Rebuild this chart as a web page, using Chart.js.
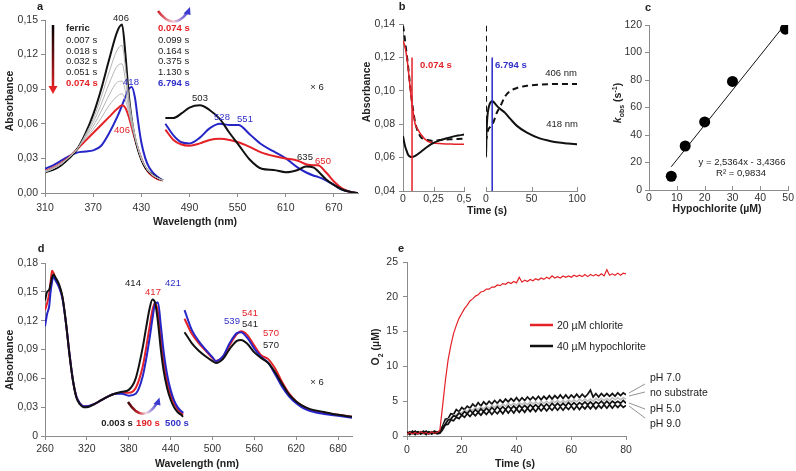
<!DOCTYPE html>
<html><head><meta charset="utf-8">
<script src="https://cdn.jsdelivr.net/npm/chart.js@4.4.1/dist/chart.umd.min.js"></script>
<style>
html,body{margin:0;padding:0;background:#fff;}
#wrap{position:relative;width:796px;height:471px;overflow:hidden;font-family:'Liberation Sans',Arial,Helvetica,sans-serif;color:#222;}
canvas{position:absolute;left:0;top:0;}
svg{position:absolute;left:0;top:0;z-index:5;}
.t,.l{position:absolute;white-space:nowrap;line-height:1;font-size:9.5px;z-index:6;}
.t{transform:translate(-50%,-50%);}
.l{transform:translate(0,-50%);}
.rot{transform:translate(-50%,-50%) rotate(-90deg);}
.b{font-weight:bold;}
.ttl{font-weight:bold;font-size:10.5px;}
.pl{font-weight:bold;font-size:11px;}
.r{color:#e42127;} .u{color:#3030c8;}
.lg{font-size:10.5px;}
</style></head><body><div id="wrap">
<canvas id="ca" width="796" height="471"></canvas>
<canvas id="cbl" width="796" height="471"></canvas>
<canvas id="cbr" width="796" height="471"></canvas>
<canvas id="cc" width="796" height="471"></canvas>
<canvas id="cd" width="796" height="471"></canvas>
<canvas id="ce" width="796" height="471"></canvas>
<svg width="796" height="471" viewBox="0 0 796 471">
<defs>
<linearGradient id="gA" gradientUnits="userSpaceOnUse" x1="0" y1="25" x2="0" y2="90"><stop offset="0" stop-color="#000"/><stop offset="1" stop-color="#e42127"/></linearGradient>
<linearGradient id="gArcA" gradientUnits="userSpaceOnUse" x1="158" y1="0" x2="189" y2="0"><stop offset="0" stop-color="#d01f28"/><stop offset="0.5" stop-color="#f2c8d4"/><stop offset="1" stop-color="#3a3ad0"/></linearGradient>
<linearGradient id="gArcD" gradientUnits="userSpaceOnUse" x1="128" y1="0" x2="158" y2="0"><stop offset="0" stop-color="#3a0808"/><stop offset="0.35" stop-color="#c8202a"/><stop offset="0.6" stop-color="#f4dde4"/><stop offset="1" stop-color="#3a3ad0"/></linearGradient>
</defs>
<line x1="53" y1="25" x2="53" y2="87" stroke="url(#gA)" stroke-width="2.5"/>
<polygon points="48.5,86 57.5,86 53,94" fill="#e42127"/>
<path d="M158,11 Q173,31 187,13" fill="none" stroke="url(#gArcA)" stroke-width="2.5"/>
<polygon points="183.5,13.5 190.5,15 190,7" fill="#3a3ad0"/>
<path d="M128,402 Q143,425 157,403" fill="none" stroke="url(#gArcD)" stroke-width="2.5"/>
<polygon points="153.5,404 160.5,405.5 159.5,397.5" fill="#3a3ad0"/>
<line x1="530" y1="325" x2="553" y2="325" stroke="#e42127" stroke-width="2.5"/>
<line x1="530" y1="346" x2="553" y2="346" stroke="#111" stroke-width="2.5"/>
<g stroke="#777" stroke-width="0.8">
<line x1="629" y1="393" x2="645" y2="384"/>
<line x1="629" y1="396" x2="645" y2="392"/>
<line x1="629" y1="403" x2="645" y2="409"/>
<line x1="629" y1="406" x2="645" y2="418"/>
</g>
</svg>

<div class="t pl" style="left:40px;top:6px">a</div>
<div class="t pl" style="left:402px;top:6px">b</div>
<div class="t pl" style="left:648px;top:7px">c</div>
<div class="t pl" style="left:41px;top:248px">d</div>
<div class="t pl" style="left:401px;top:248px">e</div>

<div class="t" style="left:121px;top:18px">406</div>
<div class="l b" style="left:66px;top:28px">ferric</div>
<div class="l" style="left:66px;top:40px">0.007 s</div>
<div class="l" style="left:66px;top:50.5px">0.018 s</div>
<div class="l" style="left:66px;top:61px">0.032 s</div>
<div class="l" style="left:66px;top:71.5px">0.051 s</div>
<div class="l b r" style="left:66px;top:82.5px">0.074 s</div>
<div class="l b r" style="left:158px;top:28px">0.074 s</div>
<div class="l" style="left:158px;top:40px">0.099 s</div>
<div class="l" style="left:158px;top:50.5px">0.164 s</div>
<div class="l" style="left:158px;top:61px">0.375 s</div>
<div class="l" style="left:158px;top:71.5px">1.130 s</div>
<div class="l b u" style="left:158px;top:82.5px">6.794 s</div>
<div class="t u" style="left:131px;top:82px">418</div>
<div class="t r" style="left:122px;top:130px">406</div>
<div class="t" style="left:200px;top:98px">503</div>
<div class="t u" style="left:222px;top:117px">528</div>
<div class="t u" style="left:245px;top:119px">551</div>
<div class="t" style="left:305px;top:157px">635</div>
<div class="t r" style="left:323px;top:161px">650</div>
<div class="t" style="left:317px;top:87px">× 6</div>

<div class="l b r" style="left:420px;top:65px">0.074 s</div>
<div class="l b u" style="left:495px;top:65px">6.794 s</div>
<div class="t" style="left:561px;top:73px">406 nm</div>
<div class="t" style="left:562px;top:124px">418 nm</div>

<div class="t" style="left:742px;top:162px">y = 2,5364x - 3,4366</div>
<div class="t" style="left:741px;top:173px">R² = 0,9834</div>

<div class="t" style="left:133px;top:283px">414</div>
<div class="t r" style="left:153px;top:292px">417</div>
<div class="t u" style="left:173px;top:283px">421</div>
<div class="t u" style="left:232px;top:321px">539</div>
<div class="t r" style="left:250px;top:313px">541</div>
<div class="t" style="left:250px;top:324px">541</div>
<div class="t r" style="left:271px;top:333px">570</div>
<div class="t" style="left:271px;top:345px">570</div>
<div class="t" style="left:317px;top:382px">× 6</div>
<div class="t b" style="left:117px;top:423px">0.003 s</div>
<div class="t b r" style="left:148px;top:423px">190 s</div>
<div class="t b u" style="left:177px;top:423px">500 s</div>

<div class="l lg" style="left:557px;top:325px">20 µM chlorite</div>
<div class="l lg" style="left:557px;top:346px">40 µM hypochlorite</div>
<div class="l lg" style="left:650px;top:377px">pH 7.0</div>
<div class="l lg" style="left:650px;top:392px">no substrate</div>
<div class="l lg" style="left:650px;top:408px">pH 5.0</div>
<div class="l lg" style="left:650px;top:423px">pH 9.0</div>

<div class="t ttl rot" style="left:9px;top:101px">Absorbance</div>
<div class="t ttl" style="left:195px;top:221px">Wavelength (nm)</div>
<div class="t ttl rot" style="left:366px;top:92px">Absorbance</div>
<div class="t ttl" style="left:487px;top:210px">Time (s)</div>
<div class="t ttl rot" style="left:618px;top:103px"><i>k</i><sub style="font-size:7px">obs</sub> (s<sup style="font-size:7px">-1</sup>)</div>
<div class="t ttl" style="left:717px;top:208px">Hypochlorite (µM)</div>
<div class="t ttl rot" style="left:9px;top:360px">Absorbance</div>
<div class="t ttl" style="left:197px;top:463px">Wavelength (nm)</div>
<div class="t ttl rot" style="left:377px;top:347px">O<sub style="font-size:7px">2</sub> (µM)</div>
<div class="t ttl" style="left:515px;top:463px">Time (s)</div>
</div>
<script>
// ---------- Panel a ----------
const aXTicks = [310,370,430,490,550,610,670];
const aYTicks = [0,0.03,0.06,0.09,0.12,0.15];
const aSoretWl = [310,320,330,340,350,360,370,380,390,400,406,410,414,418,422,426,430,435,440,450,457];
const aFerric  = [.018,.020,.024,.030,.038,.051,.068,.090,.116,.140,.146,.122,.088,.064,.048,.037,.029,.022,.018,.013,.011];
const aT007    = [.018,.021,.025,.031,.038,.050,.064,.083,.105,.124,.128,.110,.085,.065,.050,.039,.030,.023,.018,.013,.011];
const aT018    = [.018,.021,.025,.031,.038,.049,.061,.077,.095,.110,.112,.099,.080,.063,.050,.039,.030,.023,.018,.013,.011];
const aT032    = [.019,.021,.025,.031,.038,.048,.058,.071,.085,.096,.097,.089,.075,.061,.049,.039,.030,.023,.018,.013,.011];
const aT051    = [.019,.022,.026,.031,.038,.047,.055,.065,.076,.084,.086,.081,.071,.059,.048,.038,.030,.023,.018,.013,.011];
const aT074    = [.019,.022,.026,.031,.038,.045,.052,.059,.066,.073,.076,.074,.067,.057,.047,.038,.030,.022,.017,.012,.011];
const aT6794   = [.021,.024,.028,.032,.035,.036,.037,.041,.052,.066,.076,.083,.090,.092,.083,.062,.044,.030,.022,.014,.011];
const aVisWl   = [460,470,480,490,503,515,528,540,551,565,580,595,610,625,635,645,650,660,670,680,690,700];
const aVisFerric = [.065,.065,.069,.074,.076,.072,.064,.052,.042,.029,.021,.020,.018,.020,.023,.022,.019,.012,.007,.003,.001,0];
const aVisT074   = [.055,.046,.042,.041,.043,.046,.047,.046,.044,.040,.035,.032,.030,.028,.025,.024,.024,.018,.010,.004,.001,0];
const aVisT6794  = [.060,.050,.044,.043,.048,.056,.060,.059,.059,.051,.042,.036,.030,.022,.018,.015,.014,.011,.007,.003,.001,0];

// ---------- Panel b ----------
const bYTicks = [0.04,0.06,0.08,0.10,0.12,0.14];
const bLXTicks = [0,0.25,0.5];
const bRXTicks = [0,50,100];
const bLeftT  = [0,0.01,0.02,0.03,0.04,0.05,0.06,0.074,0.09,0.1,0.12,0.15,0.2,0.25,0.3,0.35,0.4,0.45,0.5];
const bFit    = [.130,.128,.125,.1206,.115,.108,.101,.092,.084,.080,.077,.0735,.0698,.0688,.0684,.0682,.0681,.068,.068];
const b406L   = [.139,.134,.128,.122,.116,.109,.102,.093,.085,.081,.076,.072,.0705,.070,.0705,.0708,.071,.0712,.0713];
const b418L   = [.073,.069,.066,.064,.062,.061,.0605,.0603,.0607,.061,.062,.0637,.0665,.0688,.0703,.0714,.0724,.0732,.0738];
const bRightT = [0,0.074,0.5,1,2,4,6.8,8,12,16,21,27,34,45,59,70,80,90,100];
const b406R   = [.139,.093,.0713,.073,.076,.078,.080,.081,.087,.091,.0967,.100,.1017,.103,.1037,.104,.104,.104,.104];
const b418R   = [.073,.0603,.0738,.080,.087,.092,.0937,.0935,.091,.089,.0868,.083,.079,.0749,.0715,.070,.069,.0685,.068];
const bMarkRedT  = [0.074,0.074];
const bMarkBlueT = [6.794,6.794];
const bMarkY     = [0.04,0.12];

// ---------- Panel c ----------
const cXTicks = [0,10,20,30,40,50];
const cYTicks = [0,20,40,60,80,100,120];
const cHypo = [8,13,20,30,49];
const cKobs = [10,32,49.5,79,117];
const cFitX = [8,49];
const cFitY = [16.9,120.8];

// ---------- Panel d ----------
const dXTicks = [260,320,380,440,500,560,620,680];
const dYTicks = [0,0.03,0.06,0.09,0.12,0.15,0.18];
const dSoretWl = [260,263,266,268,270,272,275,280,285,290,295,300,305,310,315,320,330,340,350,360,370,380,390,400,405,410,414,418,422,426,430,435,440,445,450,455,458];
const dS003 = [.141,.150,.152,.158,.165,.168,.165,.158,.145,.118,.085,.058,.040,.033,.030,.030,.033,.037,.041,.044,.046,.048,.060,.092,.113,.133,.142,.138,.118,.090,.068,.050,.038,.030,.025,.022,.020];
const dS190 = [.131,.138,.148,.160,.172,.170,.164,.156,.144,.118,.086,.058,.041,.034,.031,.031,.033,.037,.041,.044,.045,.045,.050,.072,.092,.114,.131,.139,.128,.103,.078,.057,.043,.034,.028,.024,.022];
const dS500 = [.114,.127,.135,.150,.160,.166,.162,.155,.143,.118,.086,.058,.041,.034,.031,.031,.033,.037,.041,.044,.044,.042,.044,.062,.080,.102,.122,.138,.139,.115,.088,.064,.048,.037,.030,.026,.024];
const dVisWl = [460,470,480,490,500,505,515,525,535,541,550,560,570,580,590,600,610,620,630,640,660,680,700];
const dV003 = [.108,.097,.089,.083,.078,.076,.080,.091,.099,.100,.096,.087,.081,.076,.066,.054,.043,.036,.031,.028,.025,.022,.020];
const dV190 = [.122,.107,.097,.089,.081,.078,.082,.095,.106,.109,.105,.094,.084,.080,.070,.056,.044,.036,.031,.027,.024,.022,.020];
const dV500 = [.131,.111,.099,.090,.082,.078,.083,.097,.107,.108,.102,.091,.082,.076,.064,.051,.041,.034,.029,.026,.023,.021,.019];

// ---------- Panel e ----------
const eXTicks = [0,20,40,60,80];
const eYTicks = [0,5,10,15,20,25];
const eTime = [0,1,2,3,4,5,6,7,8,9,10,11,12,13,14,15,16,17,18,19,20,21,22,23,24,25,26,27,28,29,30,31,32,33,34,35,36,37,38,39,40,41,42,43,44,45,46,47,48,49,50,51,52,53,54,55,56,57,58,59,60,61,62,63,64,65,66,67,68,69,70,71,72,73,74,75,76,77,78,79,80];
const eChlorite = [0.3,0.5,0.3,0.5,0.3,0.6,0.4,0.5,0.3,0.6,0.4,0.5,0.8,4.3,7.9,10.9,13.0,14.7,15.9,16.9,17.6,18.3,18.8,19.4,19.7,20.1,20.3,20.7,20.8,21.1,21.1,21.4,21.4,21.7,21.6,21.9,21.8,22.1,21.9,22.2,22.0,22.8,22.1,22.4,22.2,22.5,22.3,22.6,22.4,22.7,22.5,22.8,22.6,23.0,22.7,22.9,22.7,23.0,22.8,23.0,22.8,23.1,22.9,23.1,22.9,23.2,22.9,23.2,23.0,23.2,23.0,23.3,23.0,23.9,23.1,23.3,23.1,23.4,23.1,23.4,23.3];
const ePH7 = [0.5,0.3,0.7,0.4,0.6,0.3,0.7,0.4,0.6,0.3,0.7,0.5,0.7,1.4,2.4,2.5,3.2,3.1,3.8,3.5,4.1,3.8,4.3,4.0,4.6,4.2,4.8,4.3,4.9,4.5,5.0,4.6,5.1,4.7,5.2,4.8,5.3,4.9,5.4,5.0,5.5,5.0,5.5,5.1,5.6,5.2,5.6,5.2,5.7,5.2,5.7,5.3,5.8,5.3,5.8,5.4,5.9,5.4,5.9,5.4,5.9,5.5,6.0,5.5,6.0,5.6,6.0,6.6,5.6,6.1,5.6,6.1,5.7,6.1,5.7,6.1,5.7,6.2,5.8,6.2,5.9];
const eNoSub = [0.4,0.5,0.3,0.5,0.4,0.5,0.3,0.5,0.4,0.5,0.4,0.5,0.6,1.2,1.9,2.4,2.6,3.0,3.0,3.4,3.3,3.7,3.5,3.9,3.7,4.1,3.8,4.2,3.9,4.3,4.0,4.4,4.1,4.5,4.2,4.6,4.3,4.7,4.4,4.7,4.4,4.8,4.5,4.8,4.5,4.9,4.6,4.9,4.6,5.0,4.7,5.0,4.7,5.1,4.8,5.1,4.8,5.1,4.8,5.2,4.9,5.2,4.9,5.3,5.0,5.3,5.0,5.3,5.0,5.4,5.1,5.4,5.1,5.4,5.1,5.5,5.2,5.5,5.2,5.5,5.3];
const ePH5 = [0.3,0.6,0.4,0.7,0.3,0.6,0.4,0.7,0.3,0.6,0.4,0.6,0.5,1.3,1.7,2.3,2.4,2.9,2.8,3.3,3.0,3.5,3.2,3.7,3.3,3.8,3.4,3.9,3.5,4.0,3.6,4.1,3.7,4.2,3.8,4.2,3.8,4.3,3.9,4.3,3.9,4.4,4.0,4.4,4.0,4.5,4.1,4.5,4.1,4.6,4.2,4.6,4.2,4.7,4.3,4.7,4.3,4.7,4.3,4.8,4.4,4.8,4.4,4.8,4.5,4.9,4.5,4.9,4.5,4.9,4.6,5.0,4.6,5.0,4.6,5.0,4.7,5.0,4.7,5.1,4.7];
const ePH9 = [0.6,0.2,0.5,0.2,0.6,0.3,0.5,0.2,0.6,0.3,0.5,0.3,0.4,0.9,1.6,1.7,2.3,2.2,2.7,2.5,3.0,2.7,3.2,2.8,3.3,2.9,3.4,3.0,3.5,3.1,3.6,3.1,3.6,3.2,3.7,3.2,3.8,3.3,3.8,3.3,3.9,3.4,3.9,3.4,4.0,3.5,4.0,3.5,4.1,3.6,4.1,3.6,4.1,3.7,4.2,3.7,4.2,3.7,4.2,3.8,4.3,3.8,4.3,3.8,4.3,3.9,4.4,3.9,4.4,3.9,4.4,4.0,4.5,4.0,4.5,4.0,4.5,4.1,4.5,4.1,4.4];

// ---------- rendering ----------
const RED = '#e42127', BLUE = '#2626c8', GRAY = '#b4b4b4', AX = '#8c8c8c';
Chart.defaults.font.family = "'Liberation Sans', Arial, Helvetica, sans-serif";
Chart.defaults.font.size = 10.5;
Chart.defaults.color = '#333';

const innerTicks = {
  id: 'innerTicks',
  afterDraw(chart, args, opts) {
    if (!opts || !opts.len) return;
    const {ctx, chartArea} = chart; const xs = chart.scales.x;
    ctx.save(); ctx.strokeStyle = AX; ctx.lineWidth = 1;
    xs.ticks.forEach(t => {
      const px = Math.round(xs.getPixelForValue(t.value)) + 0.5;
      ctx.beginPath(); ctx.moveTo(px, chartArea.bottom); ctx.lineTo(px, chartArea.bottom - opts.len); ctx.stroke();
    });
    ctx.restore();
  }
};

function fmtDec(d, zeroPlain) {
  return v => (zeroPlain && v === 0) ? '0' : v.toFixed(d).replace('.', ',');
}
function scale(min, max, ticks, fmt, o) {
  o = o || {};
  return {
    type: 'linear', min, max, display: o.display !== false,
    afterBuildTicks: s => { s.ticks = ticks.map(v => ({value: v})); },
    ticks: {autoSkip: false, maxRotation: 0, minRotation: 0, padding: (o.pad !== undefined ? o.pad : 3), callback: fmt, color: '#333', font: {size: 10.5}},
    grid: {display: true, drawOnChartArea: false, drawTicks: (o.tl || 0) > 0, tickLength: o.tl || 0, color: AX, tickColor: AX},
    border: {display: true, color: AX, width: 1}
  };
}
function ser(xArr, yArr, color, width, extra) {
  return Object.assign({
    data: xArr.map((x, i) => ({x: x, y: yArr[i]})),
    borderColor: color, backgroundColor: color, borderWidth: width,
    pointRadius: 0, fill: false, showLine: true, tension: 0,
    cubicInterpolationMode: 'monotone'
  }, extra || {});
}
function mk(id, rect, xs, ys, datasets, inner) {
  const yW = ys.display === false ? 0 : 40;
  const xH = 25;
  xs.afterFit = s => { s.height = xH; };
  ys.afterFit = s => { s.width = yW; };
  return new Chart(document.getElementById(id), {
    type: 'line',
    data: {datasets},
    plugins: [innerTicks],
    options: {
      responsive: false, animation: false, devicePixelRatio: 1,
      layout: {padding: {left: rect.l - yW, top: rect.t, right: 796 - rect.r, bottom: 471 - rect.b - xH}},
      plugins: {legend: {display: false}, tooltip: {enabled: false}, innerTicks: {len: inner || 0}},
      scales: {x: xs, y: ys}
    }
  });
}
const fmtInt = v => String(v);

// a
mk('ca', {l: 45, t: 20, r: 358, b: 193},
  scale(310, 700, aXTicks, fmtInt, {tl: 4, pad: 5}),
  scale(0, 0.15, aYTicks, fmtDec(2), {tl: 4, pad: 3}),
  [
    ser(aSoretWl, aT007, GRAY, 1),
    ser(aSoretWl, aT018, GRAY, 1),
    ser(aSoretWl, aT032, GRAY, 1),
    ser(aSoretWl, aT051, GRAY, 1),
    ser(aSoretWl, aFerric, '#111', 2),
    ser(aSoretWl, aT074, RED, 2),
    ser(aSoretWl, aT6794, BLUE, 2),
    ser(aVisWl, aVisFerric, '#111', 2),
    ser(aVisWl, aVisT074, RED, 2),
    ser(aVisWl, aVisT6794, BLUE, 2)
  ]);

// b left
mk('cbl', {l: 403, t: 24, r: 464, b: 191},
  scale(0, 0.5, bLXTicks, v => v === 0 ? '0' : String(v).replace('.', ','), {tl: 0, pad: 2}),
  scale(0.04, 0.14, bYTicks, fmtDec(2), {tl: 4, pad: 4}),
  [
    ser(bMarkRedT, bMarkY, RED, 1.5, {cubicInterpolationMode: 'default'}),
    ser(bLeftT, b418L, '#111', 2),
    ser(bLeftT, bFit, RED, 1.5),
    ser(bLeftT, b406L, '#111', 2, {borderDash: [6, 4]})
  ], 4);

// b right
mk('cbr', {l: 486, t: 24, r: 577, b: 191},
  scale(0, 100, bRXTicks, fmtInt, {tl: 0, pad: 2}),
  Object.assign(scale(0.04, 0.14, bYTicks, fmtDec(2)), {display: false}),
  [
    ser(bMarkBlueT, bMarkY, BLUE, 1.5, {cubicInterpolationMode: 'default'}),
    ser(bRightT, b418R, '#111', 2),
    ser(bRightT, b406R, '#111', 2, {borderDash: [6, 4]})
  ], 4);

// c
mk('cc', {l: 649, t: 25, r: 789, b: 190},
  scale(0, 50, cXTicks, fmtInt, {tl: 0, pad: 2}),
  scale(0, 120, cYTicks, fmtInt, {tl: 4, pad: 3}),
  [
    ser(cFitX, cFitY, '#111', 1, {cubicInterpolationMode: 'default'}),
    ser(cHypo, cKobs, '#000', 0, {showLine: false, pointRadius: 5.5, pointBackgroundColor: '#000', pointBorderWidth: 0})
  ], 4);

// d
mk('cd', {l: 45, t: 263, r: 352, b: 436},
  scale(260, 700, dXTicks, fmtInt, {tl: 4, pad: 3}),
  scale(0, 0.18, dYTicks, fmtDec(2, true), {tl: 4, pad: 3}),
  [
    ser(dSoretWl, dS003, '#111', 2),
    ser(dSoretWl, dS500, BLUE, 2),
    ser(dSoretWl, dS190, RED, 2),
    ser(dVisWl, dV003, '#111', 2),
    ser(dVisWl, dV500, BLUE, 2),
    ser(dVisWl, dV190, RED, 2)
  ]);

// e
mk('ce', {l: 407, t: 262, r: 626, b: 436},
  scale(0, 80, eXTicks, fmtInt, {tl: 4, pad: 4}),
  scale(0, 25, eYTicks, fmtInt, {tl: 4, pad: 5}),
  [
    ser(eTime, eChlorite, RED, 1.2, {cubicInterpolationMode: 'default'}),
    ser(eTime, ePH9, '#111', 1.7, {cubicInterpolationMode: 'default'}),
    ser(eTime, ePH5, '#111', 1.7, {cubicInterpolationMode: 'default'}),
    ser(eTime, eNoSub, '#bdbdbd', 1.6, {cubicInterpolationMode: 'default'}),
    ser(eTime, ePH7, '#111', 1.7, {cubicInterpolationMode: 'default'})
  ]);
</script>
</body></html>
